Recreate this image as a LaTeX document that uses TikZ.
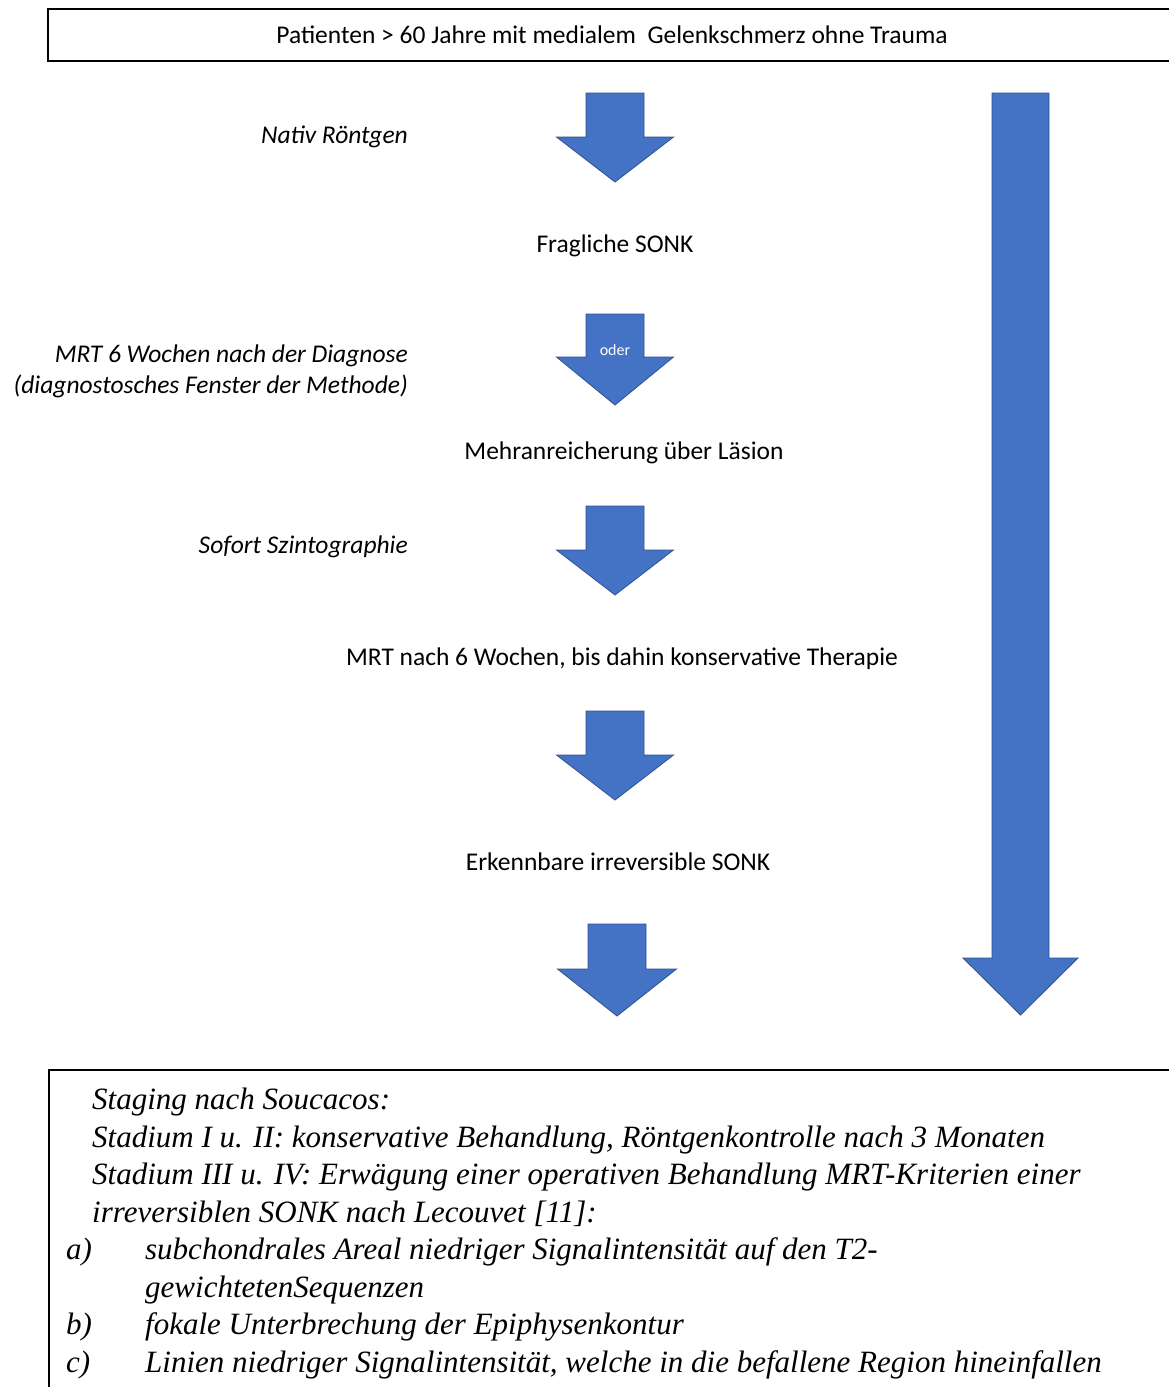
\documentclass[tikz,border=0pt]{standalone}
\usepackage{fontspec}
\setmainfont{Carlito}
\newfontfamily\serifschrift{Liberation Serif}
\usetikzlibrary{positioning}
\definecolor{pfeilblau}{HTML}{4472C4}
\definecolor{pfeilrand}{HTML}{2F528F}
% #1 x-Mitte, #2 oben, #3 Schulter, #4 Spitze, #5 halbe Schaftbreite, #6 halbe Kopfbreite
\newcommand{\pfeil}[6]{%
  \filldraw[pfeil] ({#1-#5},#2) -- ({#1+#5},#2) -- ({#1+#5},#3) -- ({#1+#6},#3)
    -- (#1,#4) -- ({#1-#6},#3) -- ({#1-#5},#3) -- cycle;}

\begin{document}
\begin{tikzpicture}[x=1pt,y=-1pt]
\tikzset{pfeil/.style={fill=pfeilblau, draw=pfeilrand, line width=0.8pt},
  kasten/.style={draw, line width=2pt},
  schritt/.style={font=\fontsize{25.5}{31}\selectfont, inner sep=0pt},
  methode/.style={font=\fontsize{25.5}{31}\selectfont\itshape, inner sep=0pt, anchor=east, align=right}}
\useasboundingbox (0,0) rectangle (1169,1387);
\clip (0,0) rectangle (1169,1387);
\fill[white] (0,0) rectangle (1169,1387);
% oberer Kasten
\draw[kasten] (48,9) rectangle (1185,61);
\node[schritt] (start) at (612,35) {Patienten > 60 Jahre mit medialem\ \ Gelenkschmerz ohne Trauma};
% Pfeile
\pfeil{615}{93}{137}{182}{29}{58.5}
\pfeil{615}{314}{357}{405}{29}{58.5}
\pfeil{615}{506}{550}{595}{29}{58.5}
\pfeil{615}{711}{755}{800}{29}{58.5}
\pfeil{617}{924}{969}{1016}{29}{59.5}
\pfeil{1020.5}{93}{958}{1015}{28.5}{57.5}
\node[font=\fontsize{16}{18}\selectfont, text=white, inner sep=0pt] (oder) at (615,350) {oder};
% Methoden
\node[methode] (nativ) at (408,137) {Nativ Röntgen};
\node[methode] (mrt) at (408,371) {MRT 6 Wochen nach der Diagnose\\(diagnostosches Fenster der Methode)};
\node[methode] (szinti) at (408,547) {Sofort Szintographie};
% Befunde
\node[schritt] (fraglich) at (615,246) {Fragliche SONK};
\node[schritt] (mehr) at (624,453) {Mehranreicherung über Läsion};
\node[schritt] (konservativ) at (622,659) {MRT nach 6 Wochen, bis dahin konservative Therapie};
\node[schritt] (erkennbar) at (618,862) {Erkennbare irreversible SONK};
% unterer Kasten
\draw[kasten] (49,1070) rectangle (1185,1400);
\node[anchor=north west, inner sep=0pt, align=left,
  font=\serifschrift\itshape\fontsize{31}{37.5}\selectfont] (staging) at (66,1088) {%
  \hspace{26pt}Staging nach Soucacos:\\
  \hspace{26pt}Stadium I u. II: konservative Behandlung, Röntgenkontrolle nach 3 Monaten\\
  \hspace{26pt}Stadium III u. IV: Erwägung einer operativen Behandlung MRT-Kriterien einer\\
  \hspace{26pt}irreversiblen SONK nach Lecouvet [11]:\\
  \makebox[79pt][l]{a)}subchondrales Areal niedriger Signalintensität auf den T2-\\
  \hspace{79pt}gewichtetenSequenzen\\
  \makebox[79pt][l]{b)}fokale Unterbrechung der Epiphysenkontur\\
  \makebox[79pt][l]{c)}Linien niedriger Signalintensität, welche in die befallene Region hineinfallen};
\end{tikzpicture}
\end{document}
